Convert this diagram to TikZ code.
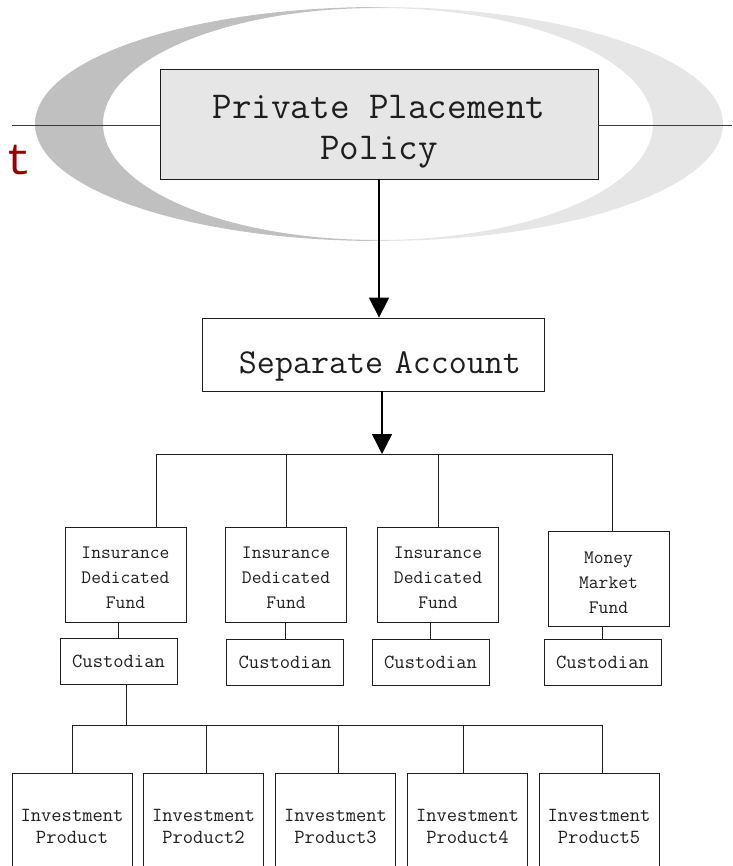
\documentclass[tikz,border=0pt]{standalone}
\usepackage{fontspec}
\usepackage{xcolor}
\usetikzlibrary{arrows.meta}
\newfontfamily\redmono{Liberation Mono}
\definecolor{chartink}{HTML}{1E1E1E}
\definecolor{chartrule}{HTML}{3C3C3C}
\definecolor{ringleft}{HTML}{C0C0C0}
\definecolor{ringright}{HTML}{E6E6E6}
\definecolor{policyfill}{HTML}{E6E6E6}
\definecolor{titlered}{HTML}{990000}
\pgfdeclarehorizontalshading{ringshade}{100bp}{color(0bp)=(ringleft); color(49bp)=(ringleft); color(51bp)=(ringright); color(100bp)=(ringright)}

\begin{document}
\begin{tikzpicture}[
  x=1pt,
  y=-1pt,
  every node/.style={font=\ttfamily, text=chartink, inner sep=0pt},
  chartbox/.style={draw=chartink, line width=0.8pt, align=center},
  fundbox/.style={chartbox, minimum width=121pt, minimum height=95pt, font=\ttfamily\fontsize{19}{25}\selectfont},
  custbox/.style={chartbox, minimum width=117pt, minimum height=46pt, font=\ttfamily\fontsize{20}{24}\selectfont},
  prodbox/.style={chartbox, anchor=north, minimum width=120pt, minimum height=106pt, font=\ttfamily\fontsize{20}{22}\selectfont},
  chartline/.style={draw=chartink, line width=0.8pt},
  arrowline/.style={draw=black, line width=1.4pt, -{Triangle[width=20pt,length=20pt]}}
]
  \useasboundingbox (0,0) rectangle (732,866);

  % ring behind the title box
  \shade[shading=ringshade, even odd rule]
    (379,124) ellipse [x radius=344pt, y radius=117pt]
    (378,124) ellipse [x radius=275pt, y radius=116pt];

  \node[font=\redmono\fontsize{44}{44}\selectfont, text=titlered, anchor=base east] (titletail) at (32,175) {t};

  \node[chartbox, fill=policyfill, minimum width=438pt, minimum height=110pt, font=\ttfamily\fontsize{38}{41}\selectfont] (policy) at (379,124) {\rule{0pt}{39pt}Private Placement\\Policy};
  \node[chartbox, minimum width=342pt, minimum height=73pt, font=\ttfamily\fontsize{35}{40}\selectfont, text height=37pt, text depth=0pt, text width=296pt, align=right] (sep) at (373,354.5) {Separate Account};

  \coordinate (ruleL) at (12,125);
  \coordinate (ruleR) at (732,125);
  \draw[chartrule, line width=0.8pt] (ruleL) -- (ruleL -| policy.west);
  \draw[chartrule, line width=0.8pt] (ruleR -| policy.east) -- (ruleR);

  \draw[arrowline] (policy.south) -- (policy.south |- sep.north);

  % funds
  \node[fundbox] (fund1) at (125.5,574.5) {\rule{0pt}{18pt}Insurance\\Dedicated\\Fund};
  \node[fundbox] (fund2) at (286,574.5) {\rule{0pt}{18pt}Insurance\\Dedicated\\Fund};
  \node[fundbox] (fund3) at (438,574.5) {\rule{0pt}{18pt}Insurance\\Dedicated\\Fund};
  \node[fundbox] (fund4) at (608.5,579) {\rule{0pt}{20pt}Money\\Market\\Fund};

  \node[custbox] (cust1) at (118.5,661) {Custodian};
  \node[custbox] (cust2) at (285,662) {Custodian};
  \node[custbox] (cust3) at (430.5,662) {Custodian};
  \node[custbox] (cust4) at (602.5,662.5) {Custodian};

  \coordinate (bus) at (382,454);
  \draw[arrowline] (bus |- sep.south) -- (bus);
  \coordinate (b1) at (156,454);
  \coordinate (b2) at (286,454);
  \coordinate (b3) at (438,454);
  \coordinate (b4) at (612,454);
  \draw[chartline] (b1) -- (b4);
  \foreach \i in {1,...,4} {
    \draw[chartline] (b\i) -- (b\i |- fund\i.north);
    \draw[chartline] (cust\i.north |- fund\i.south) -- (cust\i.north);
  }

  % products under the first custodian
  \foreach \i/\cx/\bx/\txt in {1/72/72/{Investment\\Product}, 2/203.5/206/{Investment\\Product2}, 3/335.5/338/{Investment\\Product3}, 4/467.5/463/{Investment\\Product4}, 5/599/602/{Investment\\Product5}} {
    \node[prodbox] (prod\i) at (\cx,773) {\txt};
    \coordinate (pb\i) at (\bx,725);
    \draw[chartline] (pb\i) -- (pb\i |- prod\i.north);
  }
  \coordinate (pdrop) at (126,725);
  \draw[chartline] (pdrop |- cust1.south) -- (pdrop);
  \draw[chartline] (pb1) -- (pb5);
\end{tikzpicture}
\end{document}
